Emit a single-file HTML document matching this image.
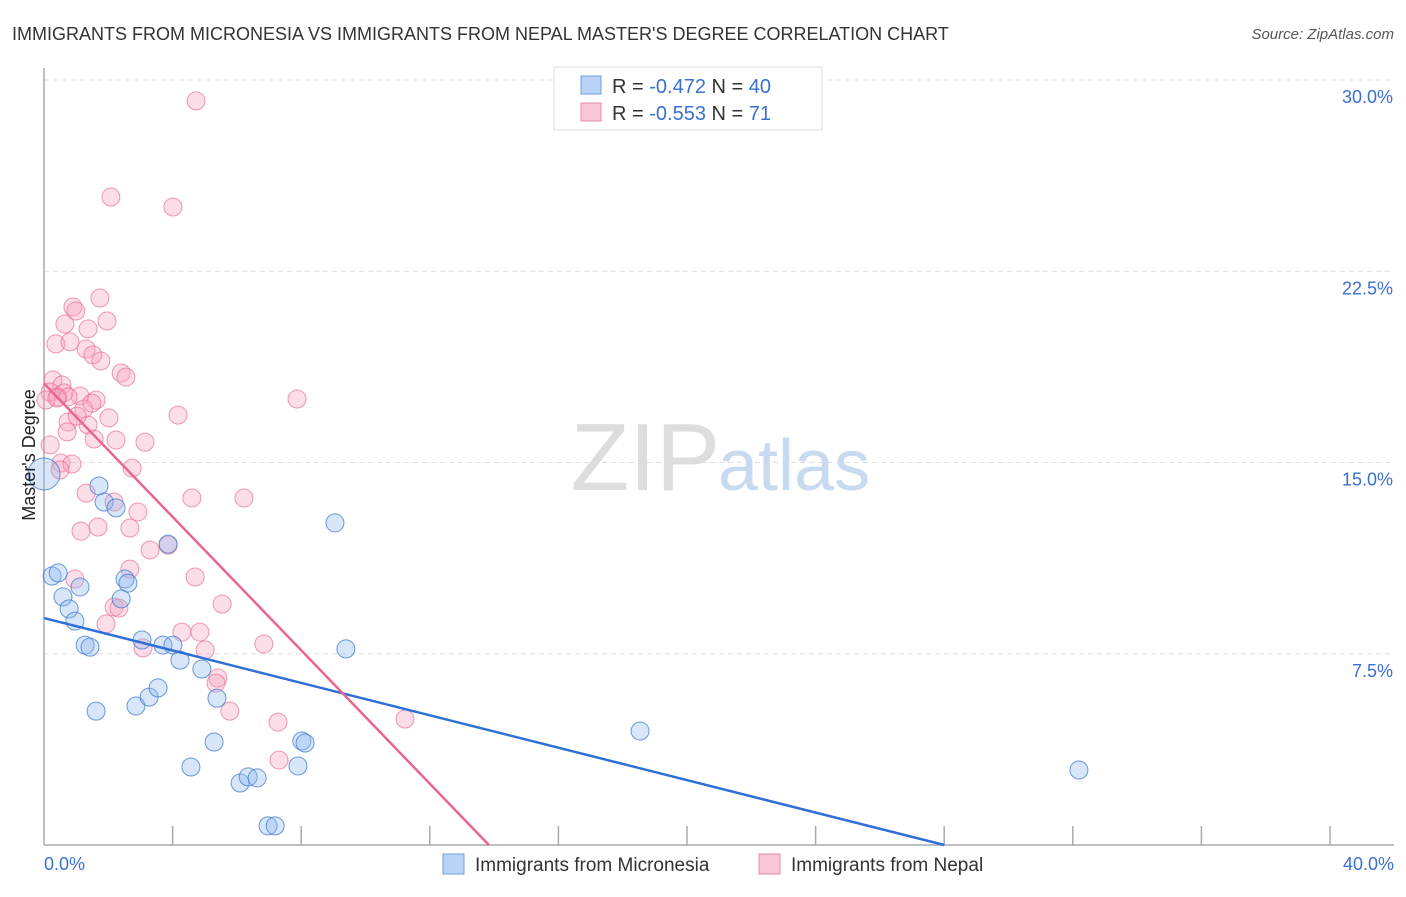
<!DOCTYPE html>
<html><head><meta charset="utf-8"><style>
body{margin:0;background:#fff;font-family:"Liberation Sans",sans-serif;}
svg text{font-family:"Liberation Sans",sans-serif;}
</style></head><body>
<svg width="1406" height="892" viewBox="0 0 1406 892">
<text x="12" y="40" font-size="18" fill="#333">IMMIGRANTS FROM MICRONESIA VS IMMIGRANTS FROM NEPAL MASTER'S DEGREE CORRELATION CHART</text>
<text x="1394" y="39" font-size="15" fill="#555" font-style="italic" text-anchor="end">Source: ZipAtlas.com</text>
<g id="grid"></g>
<text x="720" y="490" font-size="96" fill="#ddd" text-anchor="end" font-family="Liberation Serif">ZIP</text>
<text x="718" y="490" font-size="72" fill="#c8daf0">atlas</text>
<g id="points"></g>
<g id="lines"></g>
<text x="35" y="455" font-size="18" fill="#222" text-anchor="middle" transform="rotate(-90 35 455)">Master's Degree</text>
<g>
<rect x="554" y="67" width="268" height="63" fill="#fff" stroke="#ddd"/>
<rect x="581" y="76" width="20" height="18" fill="#b8d3f5" stroke="#6f9fe0"/>
<rect x="581" y="103" width="20" height="18" fill="#f8c8d6" stroke="#eb8aa8"/>
<text x="612" y="93" font-size="20" fill="#333">R = <tspan fill="#3a70d0">-0.472</tspan>   N = <tspan fill="#3a70d0">40</tspan></text>
<text x="612" y="120" font-size="20" fill="#333">R = <tspan fill="#3a70d0">-0.553</tspan>   N =  <tspan fill="#3a70d0">71</tspan></text>
</g>
<g>
<rect x="443" y="854" width="21" height="20" fill="#b8d3f5" stroke="#6f9fe0"/>
<text x="475" y="871" font-size="19" fill="#333">Immigrants from Micronesia</text>
<rect x="759" y="854" width="21" height="20" fill="#f8c8d6" stroke="#eb8aa8"/>
<text x="791" y="871" font-size="19" fill="#333">Immigrants from Nepal</text>
</g>
</svg>
<script>
const xTicks=[0,4,8,12,16,20,24,28,32,36,40];
const yTicks=[7.5,15,22.5,30];
const yTickLabels=["7.5%","15.0%","22.5%","30.0%"];
const blueX=[0.25,0.44,0.59,0.78,0.96,1.12,1.28,1.43,1.62,1.71,1.87,2.24,2.52,2.61,2.40,2.86,3.05,3.27,3.55,3.70,3.86,4.01,4.23,4.57,4.91,5.29,5.38,6.10,6.35,6.63,6.97,7.19,7.90,8.02,8.12,9.05,9.39,18.54,32.19,0.0];
const blueY=[10.55,10.67,9.73,9.26,8.78,10.12,7.84,7.76,5.25,14.08,13.45,13.22,10.43,10.27,9.65,5.45,8.04,5.80,6.16,7.84,11.80,7.84,7.25,3.06,6.90,4.04,5.76,2.43,2.67,2.63,0.75,0.75,3.10,4.08,4.00,12.63,7.69,4.47,2.94,14.55];
const pinkX=[4.73,2.08,4.01,1.74,0.90,0.99,0.65,1.96,1.37,0.37,0.81,1.31,1.52,1.77,2.40,2.55,0.28,0.56,0.19,0.44,1.12,1.62,7.87,1.24,2.02,0.75,4.17,1.37,0.72,1.56,2.24,3.14,0.19,0.53,0.87,2.74,1.31,4.60,6.22,2.18,2.92,1.68,1.15,2.67,3.30,3.86,0.96,2.67,4.70,5.54,2.18,2.33,1.93,4.29,4.85,6.84,3.08,5.01,5.41,5.35,5.78,11.23,7.28,7.31,0.62,0.06,0.75,0.50,1.49,1.03,0.40];
const pinkY=[29.18,25.41,25.02,21.45,21.10,20.94,20.43,20.55,20.24,19.65,19.73,19.45,19.22,18.98,18.51,18.35,18.24,18.04,17.76,17.57,17.61,17.45,17.49,17.10,16.75,16.59,16.86,16.47,16.20,15.92,15.88,15.80,15.69,14.98,14.94,14.78,13.80,13.61,13.61,13.45,13.06,12.47,12.31,12.43,11.57,11.76,10.43,10.82,10.51,9.45,9.33,9.29,8.67,8.35,8.35,7.88,7.73,7.65,6.55,6.35,5.25,4.94,4.82,3.33,17.73,17.45,17.57,14.71,17.33,16.82,17.53];
const blueLine=[8.9,-0.3178];
const pinkLine=[18.1,-1.308];
const NS="http://www.w3.org/2000/svg";
const X0=44,X1=1330,YB=845,PXPER=25.5;
function sx(v){return X0+(v/40)*(X1-X0);}
function sy(v){return YB-v*PXPER;}
function mk(tag,attrs,parent){const e=document.createElementNS(NS,tag);for(const k in attrs)e.setAttribute(k,attrs[k]);parent.appendChild(e);return e;}
const grid=document.getElementById('grid');
yTicks.forEach((t,i)=>{
  const l=mk('line',{x1:X0,x2:1394,y1:sy(t),y2:sy(t),stroke:'#ddd','stroke-dasharray':'5,4'},grid);
  
  
  const tx=mk('text',{x:1393,y:sy(t)+23,'font-size':18,fill:'#3a70d0','text-anchor':'end'},grid);
  tx.textContent=yTickLabels[i];
  
  
});
const ax=mk('line',{x1:X0,x2:X0,y1:68,y2:YB,stroke:'#aaa','stroke-width':1.5},grid);


const bx=mk('line',{x1:X0,x2:1394,y1:YB,y2:YB,stroke:'#aaa','stroke-width':1.5},grid);


xTicks.forEach((t,i)=>{
  if(i===0)return;
  const l=mk('line',{x1:sx(t),x2:sx(t),y1:826,y2:YB,stroke:'#aaa','stroke-width':1.5},grid);
  
  
});
const xl0=mk('text',{x:44,y:870,'font-size':18,fill:'#3a70d0'},grid);xl0.textContent='0.0%';


const xl1=mk('text',{x:1394,y:870,'font-size':18,fill:'#3a70d0','text-anchor':'end'},grid);xl1.textContent='40.0%';


const pts=document.getElementById('points');
pinkX.forEach((v,i)=>{
  const big=(v<0.1&&pinkY[i]>15&&pinkY[i]<16);
  const c=mk('circle',{cx:sx(v),cy:sy(pinkY[i]),r:big?16:9,fill:'rgba(245,160,188,0.35)',stroke:'rgba(232,110,150,0.7)','stroke-width':1},pts);
  
  
});
blueX.forEach((v,i)=>{
  const big=(v<0.1);
  const c=mk('circle',{cx:sx(v),cy:sy(blueY[i]),r:big?16:9,fill:'rgba(140,182,238,0.35)',stroke:'rgba(60,120,210,0.75)','stroke-width':1},pts);
  
  
});
const lines=document.getElementById('lines');
function trend(p,color,name){
  const xEnd=Math.min(40,-p[0]/p[1]);
  const l=mk('line',{x1:sx(0),y1:sy(p[0]),x2:sx(xEnd),y2:sy(p[0]+p[1]*xEnd),stroke:color,'stroke-width':2.5},lines);
  
  
}
trend(blueLine,'#2f6fd6','micronesia-trend-line');
trend(pinkLine,'#e8668f','nepal-trend-line');
</script>
</body></html>
